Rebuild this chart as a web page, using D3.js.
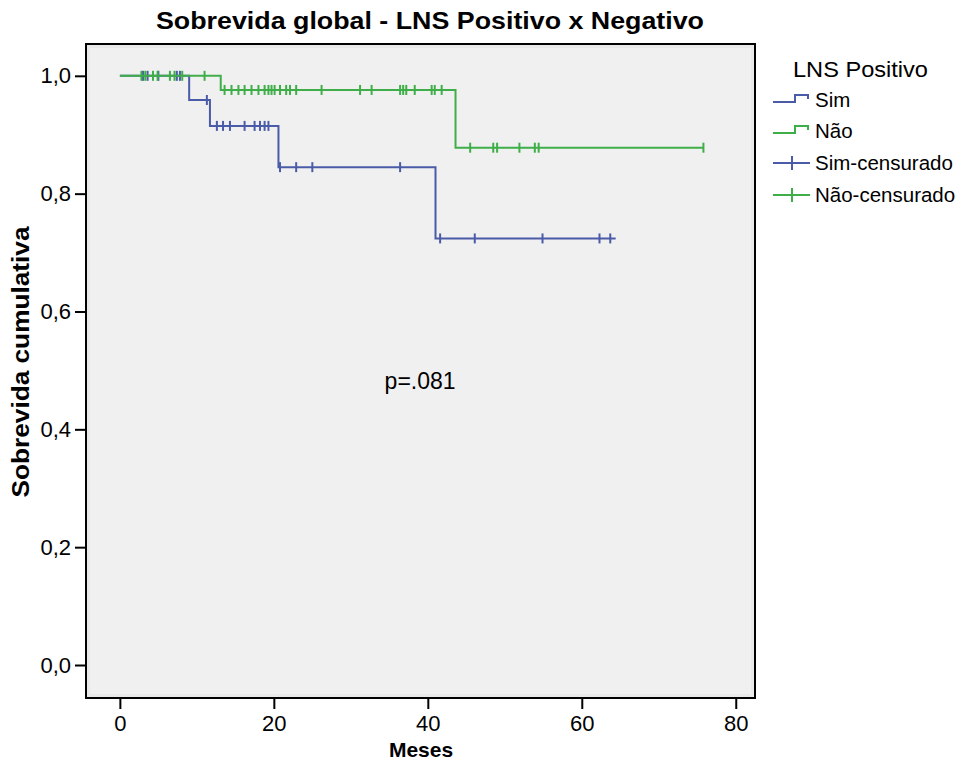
<!DOCTYPE html>
<html>
<head>
<meta charset="utf-8">
<script src="https://cdn.jsdelivr.net/npm/d3@7"></script>
<style>
  body { margin: 0; background: #fff; }
  text { font-family: "Liberation Sans", Arial, sans-serif; fill: #000; }
</style>
</head>
<body>
<div id="chart"></div>
<script>
// frame constants
const FRAME_WIDTH = 964;
const FRAME_HEIGHT = 764;
const PLOT = {left: 86, right: 755, top: 44, bottom: 698};

// data
const GROUPS = ["Sim", "Não"];
const SIM_EVENT_TIMES = [9.0, 11.7, 20.6, 41.0];
const SIM_EVENT_SURV = [0.959, 0.915, 0.845, 0.724];
const SIM_END = 64.4;
const SIM_CENSORED = [3.0, 3.6, 5.0, 7.4, 7.8, 11.3, 12.6, 13.4, 14.3, 16.2, 17.5, 18.2, 18.8, 19.3,
  20.8, 22.9, 25.0, 36.4, 41.6, 46.1, 54.9, 62.3, 63.7];
const NAO_EVENT_TIMES = [13.1, 43.6];
const NAO_EVENT_SURV = [0.976, 0.878];
const NAO_END = 75.8;
const NAO_CENSORED = [2.8, 3.3, 4.3, 4.9, 6.5, 7.1, 8.1, 11.0, 13.6, 14.5, 15.4, 16.2, 17.1, 18.0,
  18.8, 19.3, 19.7, 20.1, 20.8, 21.6, 22.1, 22.9, 26.2, 31.2, 32.7, 36.4, 36.8, 37.2, 38.3, 40.5,
  40.9, 41.8, 45.5, 48.5, 49.0, 51.9, 53.9, 54.4, 75.8];
const X_TICKS = [0, 20, 40, 60, 80];
const Y_TICKS = [0, 0.2, 0.4, 0.6, 0.8, 1.0];
const LEGEND_LABELS = ["Sim", "Não", "Sim-censurado", "Não-censurado"];

const COLOR = {"Sim": "#4a5ba8", "Não": "#3fae49"};

const SVG = d3.select("#chart")
  .append("svg")
  .attr("width", FRAME_WIDTH)
  .attr("height", FRAME_HEIGHT);

const X_SCALE = d3.scaleLinear().domain([-4.4, 82.5]).range([PLOT.left, PLOT.right]);
const Y_SCALE = d3.scaleLinear().domain([-0.056, 1.054]).range([PLOT.bottom, PLOT.top]);

// plot background
SVG.append("rect")
  .attr("x", PLOT.left).attr("y", PLOT.top)
  .attr("width", PLOT.right - PLOT.left).attr("height", PLOT.bottom - PLOT.top)
  .attr("fill", "#e9e9e9");
SVG.append("rect")
  .attr("x", PLOT.left + 4).attr("y", PLOT.top + 4)
  .attr("width", PLOT.right - PLOT.left - 8).attr("height", PLOT.bottom - PLOT.top - 8)
  .attr("fill", "#f0f0f0");

// step curves
function survAt(times, surv, t) {
  let s = 1;
  times.forEach((et, i) => { if (et <= t) s = surv[i]; });
  return s;
}

function stepPoints(times, surv, end) {
  let pts = [[0, 1]];
  let s = 1;
  times.forEach((t, i) => {
    pts.push([t, s]);
    s = surv[i];
    pts.push([t, s]);
  });
  pts.push([end, s]);
  return pts;
}

const SERIES = [
  {name: "Sim", times: SIM_EVENT_TIMES, surv: SIM_EVENT_SURV, end: SIM_END, cens: SIM_CENSORED},
  {name: "Não", times: NAO_EVENT_TIMES, surv: NAO_EVENT_SURV, end: NAO_END, cens: NAO_CENSORED}
];

const LINE = d3.line().x((d) => X_SCALE(d[0])).y((d) => Y_SCALE(d[1]));

SERIES.forEach((s) => {
  SVG.append("path")
    .datum(stepPoints(s.times, s.surv, s.end))
    .attr("d", LINE)
    .attr("fill", "none")
    .attr("stroke", COLOR[s.name])
    .attr("stroke-width", 2);

  SVG.selectAll(".cens-" + s.name)
    .data(s.cens)
    .enter()
    .append("line")
    .attr("x1", (d) => X_SCALE(d))
    .attr("x2", (d) => X_SCALE(d))
    .attr("y1", (d) => Y_SCALE(survAt(s.times, s.surv, d)) - 5)
    .attr("y2", (d) => Y_SCALE(survAt(s.times, s.surv, d)) + 5)
    .attr("stroke", COLOR[s.name])
    .attr("stroke-width", 2);
});

// frame
SVG.append("rect")
  .attr("x", PLOT.left).attr("y", PLOT.top)
  .attr("width", PLOT.right - PLOT.left).attr("height", PLOT.bottom - PLOT.top)
  .attr("fill", "none").attr("stroke", "#000").attr("stroke-width", 2);

// axes
const X_AXIS = SVG.append("g")
  .attr("transform", "translate(0," + PLOT.bottom + ")")
  .call(d3.axisBottom(X_SCALE).tickValues(X_TICKS).tickSize(11).tickPadding(6).tickFormat(d3.format("d")));
const Y_AXIS = SVG.append("g")
  .attr("transform", "translate(" + PLOT.left + ",0)")
  .call(d3.axisLeft(Y_SCALE).tickValues(Y_TICKS).tickSize(11).tickPadding(4)
    .tickFormat((d) => d3.format(".1f")(d).replace(".", ",")));
[X_AXIS, Y_AXIS].forEach((a) => {
  a.select(".domain").remove();
  a.selectAll(".tick line").attr("stroke", "#000").attr("stroke-width", 2);
  a.selectAll(".tick text").attr("font-size", "22px").attr("font-family", "Liberation Sans, Arial, sans-serif");
});

// titles
SVG.append("text")
  .attr("x", 430).attr("y", 29)
  .attr("text-anchor", "middle")
  .attr("font-size", "24px").attr("font-weight", "bold")
  .attr("textLength", 548).attr("lengthAdjust", "spacingAndGlyphs")
  .text("Sobrevida global - LNS Positivo x Negativo");

SVG.append("text")
  .attr("x", 421).attr("y", 757)
  .attr("text-anchor", "middle")
  .attr("font-size", "21px").attr("font-weight", "bold")
  .text("Meses");

SVG.append("text")
  .attr("transform", "translate(29,362) rotate(-90)")
  .attr("text-anchor", "middle")
  .attr("font-size", "23px").attr("font-weight", "bold")
  .attr("textLength", 271).attr("lengthAdjust", "spacingAndGlyphs")
  .text("Sobrevida cumulativa");

SVG.append("text")
  .attr("x", X_SCALE(39)).attr("y", 389)
  .attr("text-anchor", "middle")
  .attr("font-size", "23px")
  .text("p=.081");

// legend
SVG.append("text")
  .attr("x", 793).attr("y", 77)
  .attr("font-size", "22px")
  .attr("textLength", 135).attr("lengthAdjust", "spacingAndGlyphs")
  .text("LNS Positivo");

const LEG_Y = [107, 138, 170, 202];
LEGEND_LABELS.forEach((lab, i) => {
  const col = COLOR[GROUPS[i % 2]];
  const y = LEG_Y[i] - 7;
  if (i < 2) {
    SVG.append("path")
      .attr("d", "M773," + (y + 2) + "H795V" + (y - 5) + "H808V" + (y - 1))
      .attr("fill", "none").attr("stroke", col).attr("stroke-width", 2);
  } else {
    SVG.append("line")
      .attr("x1", 773).attr("x2", 810).attr("y1", y).attr("y2", y)
      .attr("stroke", col).attr("stroke-width", 2);
    SVG.append("line")
      .attr("x1", 792).attr("x2", 792).attr("y1", y - 7).attr("y2", y + 7)
      .attr("stroke", col).attr("stroke-width", 2);
  }
  SVG.append("text")
    .attr("x", 815).attr("y", LEG_Y[i])
    .attr("font-size", "20.5px")
    .text(lab);
});
</script>
</body>
</html>
